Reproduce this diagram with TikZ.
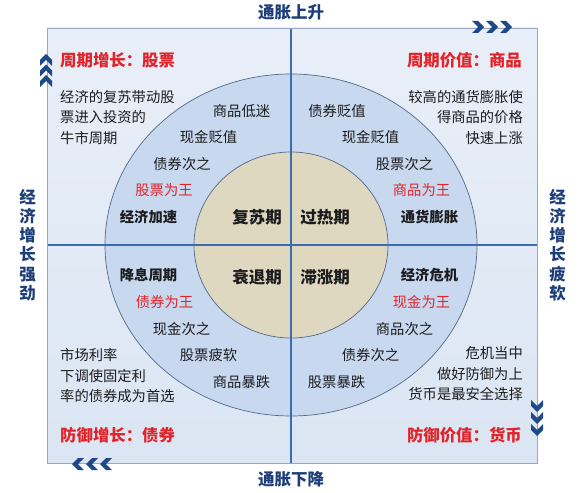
\documentclass[tikz,border=0pt]{standalone}
\usepackage{fontspec}
\setmainfont{Noto Sans CJK SC}
\usetikzlibrary{positioning}
\definecolor{bgtop}{RGB}{233, 239, 248}
\definecolor{bgbot}{RGB}{219, 229, 243}
\definecolor{ringblue}{RGB}{199, 216, 239}
\definecolor{corebeige}{RGB}{222, 216, 192}
\definecolor{crossblue}{RGB}{58, 108, 180}
\definecolor{framegrey}{RGB}{150, 168, 198}
\definecolor{rimgrey}{RGB}{84, 104, 138}
\definecolor{navy}{RGB}{30, 62, 122}
\definecolor{chevblue}{RGB}{30, 72, 136}
\definecolor{kingred}{RGB}{226, 36, 42}
\definecolor{txt}{RGB}{28, 28, 30}
\tikzset{
  chevron/.pic={\fill[chevblue] (0,-6) -- (6,-6) -- (12,0) -- (6,6) -- (0,6) -- (6,0) -- cycle;},
}

\begin{document}
\begin{tikzpicture}[x=1pt, y=-1pt,
    axis/.style={font=\fontsize{16.5}{19.2}\selectfont\bfseries\color{navy}, align=center, inner sep=0pt},
    phase/.style={font=\fontsize{16.5}{19}\selectfont\bfseries\color{txt}, inner sep=0pt},
    item/.style={font=\fontsize{14.3}{17}\selectfont\color{txt}, inner sep=0pt},
    stage/.style={item, font=\fontsize{14.3}{17}\selectfont\bfseries\color{txt}},
    king/.style={item, text=kingred},
    headline/.style={font=\fontsize{16.4}{19}\selectfont\bfseries\color{kingred}, inner sep=0pt},
    note/.style={font=\fontsize{14.3}{20.5}\selectfont\color{txt}, inner sep=0pt},
  ]
    \useasboundingbox (0,0) rectangle (588,492);

    % frame and rings
    \coordinate (nw) at (47,28);
    \coordinate (se) at (537,463);
    \coordinate (o) at (291,245);
    \coordinate (top) at (291,28);
    \coordinate (bot) at (291,463);
    \coordinate (lft) at (47,245);
    \coordinate (rgt) at (537,245);

    \shade[top color=bgtop, bottom color=bgbot] (nw) rectangle (se);
    \draw[rimgrey, line width=0.7pt, fill=ringblue] (o) ellipse [x radius=186pt, y radius=171pt];
    \draw[rimgrey, line width=0.7pt, fill=corebeige] (o) ellipse [x radius=97pt, y radius=93pt];
    \draw[crossblue, line width=1.5pt] (top) -- (bot);
    \draw[crossblue, line width=1.5pt] (lft) -- (rgt);
    \draw[framegrey, line width=0.9pt] (nw) rectangle (se);

    % chevrons on the frame
    \foreach \i in {0,1,2} {
      \pic at (46, 66+10.5*\i) [rotate=90] {chevron};
      \pic at (472+14*\i, 27) {chevron};
      \pic at (84+14*\i, 464) [rotate=180] {chevron};
      \pic at (537, 400+12*\i) [rotate=-90] {chevron};
    }

    % axes
    \node[axis] (up) at (291,12) {通胀上升};
    \node[axis] (down) at (291,479) {通胀下降};
    \node[axis] (strong) at (27.5,245) {经\\济\\增\\长\\强\\劲};
    \node[axis] (weak) at (557.5,245) {经\\济\\增\\长\\疲\\软};

    % phases
    \node[phase] (recovery) at (257,217) {复苏期};
    \node[phase] (overheat) at (325,217) {过热期};
    \node[phase] (recession) at (257,277) {衰退期};
    \node[phase] (stagflation) at (325,277) {滞涨期};

    % upper left ring
    \node[item] (tl1) at (241.5,111) {商品低迷};
    \node[item] (tl2) at (208.5,137) {现金贬值};
    \node[item] (tl3) at (182,164) {债券次之};
    \node[king] (tl4) at (164,190) {股票为王};
    \node[stage] (tl5) at (148.5,217) {经济加速};

    % upper right ring
    \node[item] (tr1) at (337,111) {债券贬值};
    \node[item] (tr2) at (370.5,137) {现金贬值};
    \node[item] (tr3) at (404.5,164) {股票次之};
    \node[king] (tr4) at (421.5,190) {商品为王};
    \node[stage] (tr5) at (429.5,217) {通货膨胀};

    % lower left ring
    \node[stage] (bl1) at (148.5,275) {降息周期};
    \node[king] (bl2) at (164.5,302) {债券为王};
    \node[item] (bl3) at (181.5,329) {现金次之};
    \node[item] (bl4) at (208.5,355) {股票疲软};
    \node[item] (bl5) at (241.5,382) {商品暴跌};

    % lower right ring
    \node[stage] (br1) at (429.5,275) {经济危机};
    \node[king] (br2) at (421.5,302) {现金为王};
    \node[item] (br3) at (404.5,329) {商品次之};
    \node[item] (br4) at (370.5,355) {债券次之};
    \node[item] (br5) at (336.5,382) {股票暴跌};

    % corners
    \node[headline, anchor=west] (stocks) at (60,60) {周期增长：股票};
    \node[note, anchor=west, align=left] (stocksnote) at (60,117.5) {经济的复苏带动股\\票进入投资的\\牛市周期};
    \node[headline, anchor=east] (goods) at (522,60) {周期价值：商品};
    \node[note, anchor=east, align=right] (goodsnote) at (523,117.5) {较高的通货膨胀使\\得商品的价格\\快速上涨};
    \node[note, anchor=west, align=left] (bondsnote) at (60,376) {市场利率\\下调使固定利\\率的债券成为首选};
    \node[headline, anchor=west] (bonds) at (60,435) {防御增长：债券};
    \node[note, anchor=east, align=right] (cashnote) at (523,374) {危机当中\\做好防御为上\\货币是最安全选择};
    \node[headline, anchor=east] (cash) at (522,435) {防御价值：货币};

  \end{tikzpicture}
\end{document}
